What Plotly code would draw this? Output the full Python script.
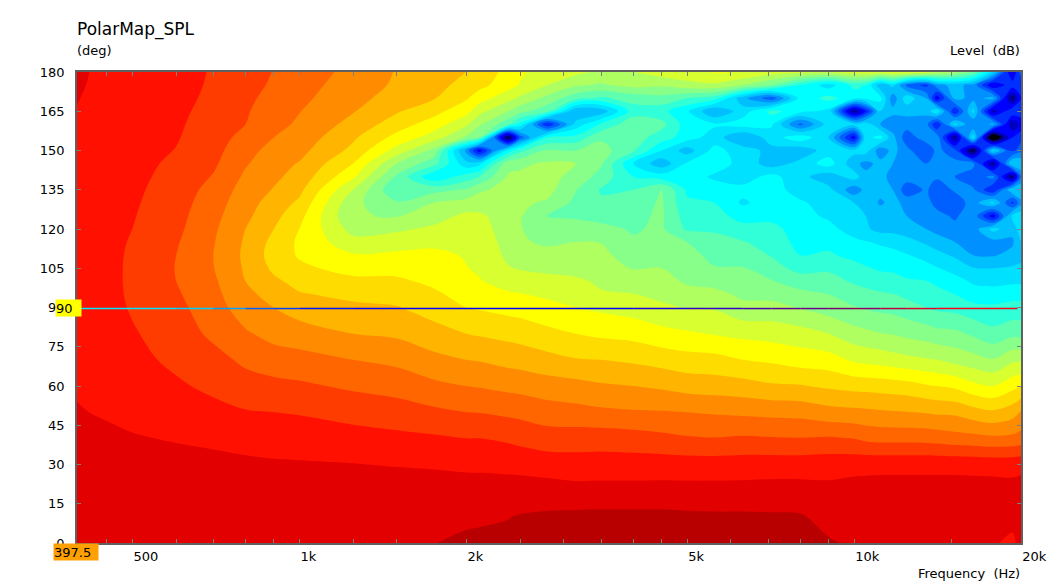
import math
import plotly.graph_objects as go

degrees = [0,10,20,30,40,50,60,70,80,90,95,100,105,110,115,120,125,130,135,140,145,150,155,160,165,170,175,180]
frequencies = [397.5,450,500,600,700,800,900,1000,1250,1500,1750,2000,2110,2380,2500,2800,3150,3500,4000,4500,5000,5600,6300,7100,8000,9000,10000,10500,11150,11750,12450,13500,14100,15200,16400,17800,19300,20000]

f00397=[3.5,3.8,4.2,4.7,5.2,5.8,6.3,6.8,7.4,7.7,7.8,7.8,7.8,7.8,7.7,7.6,7.5,7.4,7.3,7.2,7.1,7,6.9,6.6,6.1,5.9,5.7,5.5]
f00450=[3.5,3.8,4.2,4.7,5.4,6.3,6.8,7.2,7.6,7.9,8,8,8,8,7.9,7.8,7.7,7.6,7.5,7.4,7.3,7.2,7.1,7,6.9,6.8,6.7,6.7]
f00500=[3.4,3.7,4.2,4.9,5.8,6.7,7.5,8.2,8.7,9.3,9.5,9.6,9.6,9.5,9.3,9,8.8,8.6,8.4,8.2,8,7.8,7.6,7.5,7.4,7.3,7.2,7.1]
f00600=[3.3,3.6,4.2,5.1,6.2,7.4,8.6,9.6,10.5,11.2,11.6,12,12.1,12,11.7,11.3,11,10.7,10.4,10,9.6,9.1,8.8,8.6,8.4,8.3,8.2,8.1]
f00700=[3.2,3.5,4.2,5.2,6.6,8.2,9.6,11,12.6,13.6,14.1,14.5,14.9,15,14.8,14.5,14.1,13.6,13,12.2,11.5,11,10.5,10.2,9.9,9.5,9.3,9.2]
f00800=[3.2,3.4,4.2,5.4,7.1,8.8,10.8,12.6,14.6,16.6,17.3,18,18.4,18.6,18.4,18,17.3,16.8,16.2,15.5,14.7,14,13.1,12,11.7,11.4,11,10.8]
f00900=[3.2,3.3,4.1,5.6,7.4,9,11.2,13.5,16,18,19,20.4,21.6,22.3,21.9,21,20.1,19.2,18.2,17.4,16.8,16,15,14.2,13.5,12.9,12.4,12.1]
f01000=[3.2,3.3,4.2,5.7,7.5,9.2,11.5,13.9,16.6,19.4,20.7,22,23.4,24.3,24.5,24,23,21.6,20.2,19.1,18.2,17.1,16.2,15.4,14.9,14.3,13.9,13.5]
f01250=[3.2,3.3,4.2,5.9,7.9,10,12.5,15,18,20.3,21.8,23.3,25,26.7,29,31.1,32.8,32.2,30,26.4,24,21.8,20.5,19,17.8,17,16.3,15.8]
f01500=[3.15,3.3,4.2,6.2,8.2,10.8,13,15.8,18.5,20.8,22.2,23.5,24.9,26.4,28.4,30.5,33.2,35.6,38.8,36.6,33,28.2,25,22.5,20.7,19.3,18.5,18.2]
f01750=[3.02,3.2,4.3,6.4,8.6,11.4,14.3,17.2,19.8,22.4,23.5,24.6,25.5,26.4,27.6,29.4,31.3,33,37,44.5,38,34,28.5,25.5,23,20.8,20,19.6]
f02000=[2.8,3.2,4.4,6.7,9,12,15,18,21,24,25,26,26.9,27.2,27.8,28.5,29.3,31.8,35.7,40.6,47,52,33.5,29.5,26,23.6,22,21]
f02110=[2.7,3.2,4.5,6.7,9,12.1,15.2,18.2,21.3,24.3,25.7,26.8,27.4,27.8,28.3,28.9,29.5,31.5,33.5,39,46,62,36,32.5,29,25.6,23,22]
f02380=[2.2,3.1,4.7,6.8,9.5,12.6,15.8,19,21.9,25,26.6,28.2,29.8,30.6,31,31.3,31.3,31.4,32,32.6,34,44,70,38,33,29,25.8,25]
f02500=[1.9,2.8,4.7,6.9,9.9,12.8,16,19.2,22.2,25.2,26.8,28.8,30.2,31.8,32.6,32.8,32.7,32.5,32.3,32.5,33.5,40,56,43,35,30.5,27.2,26.5]
f02800=[1.6,2.5,4.7,7.4,10.6,13.6,16.6,20,23.2,26,27.6,29.2,30.6,32,33.5,35,36,33.4,32,31.9,32.6,35.5,42,60,38,34,30,28.6]
f03150=[1.2,2.3,5,7.7,10.5,14,17,20.8,24,27,28,29.4,31.2,32.4,33,34.5,36.5,36.8,35.8,34,33,36,41,47,51,38,32.5,29.2]
f03500=[1,2.2,5,7.6,10.4,14.4,17.6,21,24.6,27.6,29.7,30.5,31.2,32.1,33.1,35.2,37,38.5,39.3,37.2,35.6,34.8,36.5,41.5,50,39.5,33.4,30.5]
f04000=[1,2.2,5,7.6,10.7,14.7,18,21.5,25,28.4,29.9,31.6,33.2,34.7,35.6,36.3,36.8,37.5,39,42,45,38.5,37.5,37,40.5,37.8,32,30]
f04500=[1,2.2,5,7.5,11.2,14.8,18.5,22.2,26,29.4,30.8,32,33,34.2,35.2,35.5,35.5,35.6,35.8,43.5,50,45,40.5,38,41,37,32.5,28.5]
f05000=[1.1,2.4,5,7.6,11.7,15,19.2,22.8,26.6,30.2,32,33.4,34.4,35,36,39.5,40.5,41.5,42.5,43.5,44.5,49.5,43.5,43.5,44.5,39,31,28]
f05600=[1.1,2.5,5,7.6,11.9,15.3,19.5,23,27.2,30.3,32,34.2,35.8,36.8,37.8,39.5,41,42,43.5,45.5,43.5,44,46.5,44.5,51,40.5,30.5,26.8]
f06300=[1.1,2.5,5,7.5,11.6,15.6,19.8,24,27.8,32.2,33.6,34.8,35.8,37.4,38.8,41,43,45.5,44,46.5,46,46.5,51,43.5,46.5,50,33,27]
f07100=[1.2,2.6,4.9,7.4,11.8,15.8,20.6,24.5,28.2,32,34,35.8,37.8,39.2,40.2,41,43,43.5,43.5,44,49.5,49,46.5,44.5,41,56,36,28.5]
f08000=[1.2,2.7,4.9,7.4,11.9,16,20.8,25.4,28.8,33.2,35,37.5,40,42,43,43.5,44,44.5,46.5,47,47,50,43,55,44,44,42,29]
f09000=[2.7,4,5.2,7.2,11.7,16.9,21.5,25.7,30,34.5,36,37.9,39.5,41.6,42.8,44,45.5,46.5,47,50,43.5,46.5,48,46.5,46,41,46.5,29.5]
f10000=[3.4,3.6,4.8,7,12.1,17.2,22,27.5,31.8,35.8,37.6,39.4,41,42.8,44.2,46.5,47,48,53,46.5,50,47,62,47,67,44,41,28.5]
f10500=[3.5,3.6,4.8,6.9,12.7,17.4,22.1,27.9,32.3,36.3,38,40,41.7,43.3,44.8,47.5,48,48.5,50,50,52,46.5,46,46,60,44,42,28]
f11150=[3.6,3.6,4.8,6.8,13,17.6,22.3,28.2,32.9,36.8,38.6,40.6,42.4,43.9,45.4,49,49,51.5,50,49,50,53,44,51,48,44,50,28]
f11750=[3.7,3.6,4.8,6.8,13,17.8,22.5,28.7,33.2,37,38.9,40.8,42.6,44,46,49,49.5,50,51,53,51,50,50,53,50,53,47,27.5]
f12450=[3.8,3.6,4.8,6.8,13,17.9,22.8,29.2,33.8,37.7,39.8,41.6,43.3,44.8,47,49.5,51,52,56,52.5,53.5,53,56,52.5,50,46,55,27]
f13500=[3.8,3.5,4.8,6.8,13.1,18.2,23.7,29.7,34.4,39,40.5,41.9,44,46,48.5,51,52.5,53,53.5,54,54,57,52,53,50,51,58,28]
f14100=[3.8,3.4,4.8,6.8,13.3,18.5,24,30,35,39.6,41,42.6,44.8,47,49.5,52,53,55,56,53.5,54,53,52,60,45,62,52,30]
f15200=[3.9,3.2,4.8,6.8,13.8,18.6,24.6,31,35.3,40,42,44,46,48.5,51,53,54.5,56,53.5,54,53,56,67,47,60,50,50,32]
f16400=[4.2,3.2,4.8,6.9,14,19.7,26.2,31.8,36.5,41,43.8,45.4,47.8,51,52,52.5,52,52.5,53.5,56,53,70,46,54,47,52,52,36]
f17800=[5.7,3.4,4.8,7,14.4,20.5,27,32.8,38,41.5,43.6,45.9,48,51.3,52,47,62,47,60,53,67,47,75,50,65,50,63,47]
f19300=[6.6,5.1,5,7,14.2,19.3,25,30.6,36.8,41,43,45.6,47.6,50,51.5,50,47,58,48,68,47,58,60,66,57,68,58,64]
f20000=[5,3.4,4.8,6.8,13.8,17.7,24,30.5,37,41,43,45.6,47.4,48.8,48,46,46,52,48,54,48,55,58,62,58,60,60,55]

columns = [f00397,f00450,f00500,f00600,f00700,f00800,f00900,f01000,f01250,f01500,f01750,f02000,f02110,f02380,f02500,f02800,f03150,f03500,f04000,f04500,f05000,f05600,f06300,f07100,f08000,f09000,f10000,f10500,f11150,f11750,f12450,f13500,f14100,f15200,f16400,f17800,f19300,f20000]
assert len(columns) == len(frequencies)
assert all(len(c) == len(degrees) for c in columns)
level_table = [list(r) for r in zip(*columns)]

band_colors = ["#b80000","#e20000","#ff1000","#ff3c00","#ff6600","#ff8c00","#ffb400","#ffdc00","#ffff00","#d8ff30","#b0ff60","#88ff88","#60ffb0","#30ffd8","#00ffff","#00e0ff","#00bfff","#0090ff","#0060ff","#0030ff","#0000ff","#0000c0","#000080","#000000"]

freq_ticks = [450,500,600,700,800,900,1000,1250,1500,2000,2500,3000,3500,4000,4500,5000,6000,7000,8000,9000,10000,15000,20000]
freq_tick_labels = {500:"500",1000:"1k",2000:"2k",5000:"5k",10000:"10k",20000:"20k"}
deg_ticks = [0,15,30,45,60,75,90,105,120,135,150,165,180]

cursor_deg = 89.6
cursor_freq = [397.5,500,600,700,800,900,1000,1250,1500,2500,4000,5000,6300,7100,8000,9000,10000,11150,12450,14100,19700]
cursor_colors = ["#00e8ff","#00e0ff","#00d0ff","#00a0ff","#0060ff","#0040ff","#0010ff","#0000ff","#0000ff","#0000f0","#1800e0","#3000c8","#4800b0","#600098","#700088","#800070","#980060","#c00040","#e00030","#ff0018"]

FONT = "DejaVu Sans"
fig = go.Figure()
n = len(band_colors)
fig.add_trace(go.Contour(
    x=frequencies, y=degrees, z=level_table,
    autocontour=False,
    contours=dict(start=3, end=69, size=3, coloring="fill", showlines=False),
    line=dict(width=0, smoothing=1.0),
    colorscale=[[i/(n-1), c] for i, c in enumerate(band_colors)],
    showscale=False, hoverinfo="skip",
))
for i, col in enumerate(cursor_colors):
    fig.add_trace(go.Scatter(
        x=[cursor_freq[i], cursor_freq[i+1]], y=[cursor_deg, cursor_deg], mode="lines",
        line=dict(color=col, width=1.5), showlegend=False, hoverinfo="skip",
    ))

tick_font = dict(family=FONT, size=13, color="#000000")
fig.update_layout(
    width=1040, height=575, autosize=False,
    margin=dict(l=69, r=27, t=64, b=40, pad=0, autoexpand=False),
    paper_bgcolor="#ffffff", plot_bgcolor="#ffffff",
    showlegend=False, font=tick_font,
    xaxis=dict(type="log", range=[math.log10(397.5), math.log10(20000)],
               tickmode="array", tickvals=freq_ticks,
               ticktext=[freq_tick_labels.get(t, "") for t in freq_ticks],
               ticks="inside", ticklen=4, tickwidth=1, tickcolor="#808080",
               ticklabelposition="outside right", ticklabelstandoff=1,
               showgrid=False, zeroline=False,
               showline=True, linecolor="#606060", linewidth=1.5, mirror="ticks",
               tickfont=tick_font),
    yaxis=dict(range=[0, 180], tickmode="array", tickvals=deg_ticks,
               ticktext=[str(t) for t in deg_ticks],
               ticks="inside", ticklen=4, tickwidth=1, tickcolor="#808080",
               ticklabelstandoff=8,
               showgrid=False, zeroline=False,
               showline=True, linecolor="#606060", linewidth=1.5, mirror="ticks",
               tickfont=tick_font),
)

def note(text, px, py, anchor="left", size=13, **kw):
    fig.add_annotation(text=text, xref="paper", yref="paper",
                       x=(px-77)/944, y=(543-py)/471, xanchor=anchor, yanchor="middle",
                       showarrow=False, font=dict(family=FONT, size=size, color="#000000"),
                       borderpad=0, **kw)

note("PolarMap_SPL", 76, 29, size=17)
note("(deg)", 76, 50)
note("Level&nbsp;&nbsp;(dB)", 1021, 50, anchor="right")
note("Frequency&nbsp;&nbsp;(Hz)", 1021, 573, anchor="right")
note("90", 55, 308, bgcolor="#ffff00", width=25, height=16, align="left")
note("397.5", 53, 552, bgcolor="#ff9f00", width=44, height=16, align="left")

fig.write_html("out.html")
